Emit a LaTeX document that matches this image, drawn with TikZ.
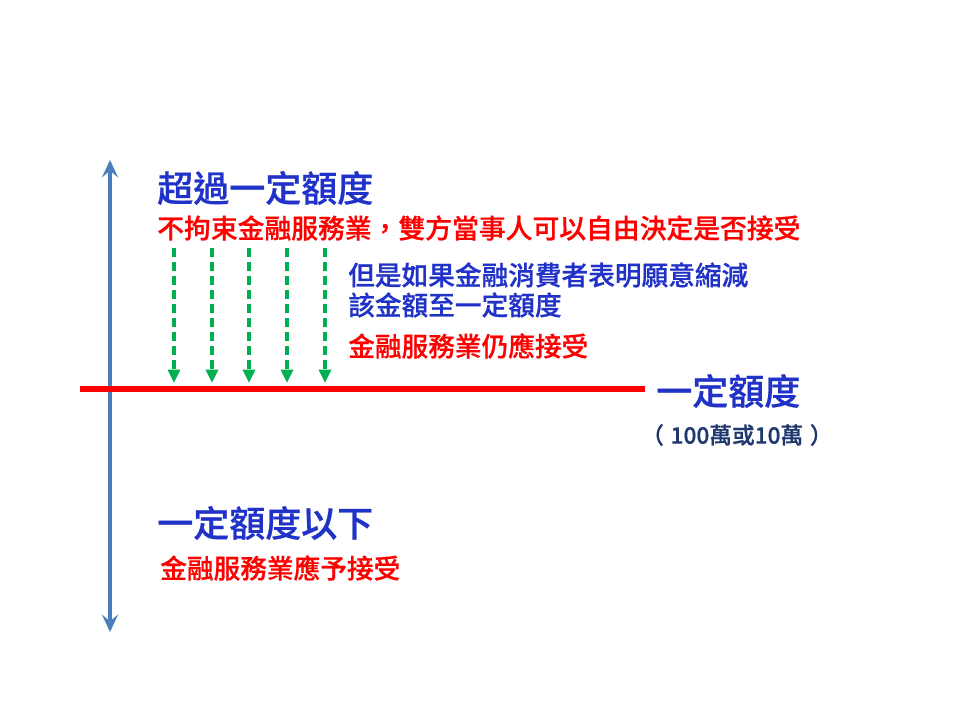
\documentclass[tikz,border=0pt]{standalone}
\usepackage{fontspec}
\newfontfamily\cjk{Noto Sans CJK TC Medium}[FakeBold=0.6]
\usetikzlibrary{arrows.meta}
\definecolor{axisblue}{RGB}{74,126,187}
\definecolor{txtblue}{RGB}{32,50,200}
\definecolor{txtred}{RGB}{255,0,0}
\definecolor{navytxt}{RGB}{31,56,110}
\definecolor{dgreen}{RGB}{0,176,80}
\begin{document}
\begin{tikzpicture}[x=0.75pt,y=-0.75pt,
  lbl/.style={anchor=west,inner sep=0pt,font=\cjk},
  big/.style={lbl,text=txtblue,font=\cjk\fontsize{27pt}{30pt}\selectfont},
  redtxt/.style={lbl,text=txtred,font=\cjk\fontsize{20pt}{22pt}\selectfont},
  bluetxt/.style={lbl,text=txtblue,font=\cjk\fontsize{20pt}{22pt}\selectfont},
  axis/.style={draw=axisblue,line width=2.6pt,{Stealth[length=13pt,width=12pt,inset=5pt]}-{Stealth[length=13pt,width=12pt,inset=5pt]}},
  limit/.style={draw=txtred,line width=4pt},
  dasharrow/.style={draw=dgreen,line width=2.3pt,dash pattern=on 7pt off 3.5pt,-{Triangle[length=10pt,width=9pt]}}
]
\useasboundingbox (0,0) rectangle (960,720);
\fill[white] (0,0) rectangle (960,720);

\coordinate (axtop) at (110,160);
\coordinate (axbot) at (110,632);
\draw[axis] (axbot) -- (axtop);

\coordinate (lineL) at (80,389);
\coordinate (lineR) at (645,389);
\draw[limit] (lineL) -- (lineR);

\foreach \i/\x in {1/174,2/212,3/249,4/287,5/325}{
  \coordinate (t\i) at (\x,248);
  \coordinate (b\i) at (\x,383);
  \draw[dasharrow] (t\i) -- (b\i);
}

\node[big] (above) at (157,188) {超過一定額度};
\node[redtxt,font=\cjk\fontsize{20.1pt}{22pt}\selectfont] (abovenote) at (157,228) {不拘束金融服務業，雙方當事人可以自由決定是否接受};
\node[bluetxt] (but1) at (348,275) {但是如果金融消費者表明願意縮減};
\node[bluetxt] (but2) at (348,305) {該金額至一定額度};
\node[redtxt] (still) at (348,346) {金融服務業仍應接受};
\node[big] (limitlbl) at (656,391) {一定額度};
\node[lbl,text=navytxt,font=\cjk\fontsize{17pt}{20pt}\selectfont] (amount) at (641,435) {（\hspace{5pt}100萬或10萬\hspace{5pt}）};
\node[big] (below) at (157,523) {一定額度以下};
\node[redtxt] (belownote) at (160,568) {金融服務業應予接受};
\end{tikzpicture}
\end{document}
